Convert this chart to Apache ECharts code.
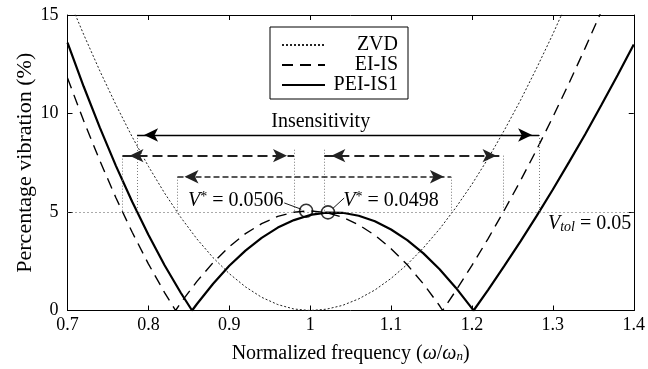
<!DOCTYPE html>
<html><head><meta charset="utf-8">
<script src="https://cdn.jsdelivr.net/npm/echarts@6/dist/echarts.min.js"></script>
<style>html,body{margin:0;padding:0;background:#fff}#c{width:648px;height:369px}</style>
</head><body><div id="c"></div>
<script>
// ---- data ----
const zvdF = [0.70,0.72,0.74,0.76,0.78,0.80,0.82,0.84,0.86,0.88,0.90,0.92,0.94,0.96,0.98,1.00,1.02,1.04,1.06,1.08,1.10,1.12,1.14,1.16,1.18,1.20,1.22,1.24,1.26,1.28,1.30,1.32,1.34];
const zvdV = [15.96,14.01,12.16,10.43,8.81,7.32,5.96,4.73,3.63,2.68,1.87,1.20,0.67,0.30,0.075,0,0.066,0.26,0.59,1.04,1.63,2.34,3.18,4.14,5.22,6.41,7.72,9.15,10.67,12.31,14.03,15.86,17.78];

const eiF = [0.70,0.72,0.74,0.76,0.78,0.80,0.82,0.8336,0.84,0.86,0.88,0.90,0.92,0.94,0.96,0.98,1.00,1.02,1.04,1.06,1.08,1.10,1.12,1.14,1.16,1.1637,1.18,1.20,1.22,1.24,1.26,1.28,1.30,1.32,1.34,1.36,1.38];
const eiV = [11.8,9.63,7.60,5.71,3.97,2.37,0.91,0,0.39,1.48,2.43,3.24,3.90,4.41,4.78,4.99,5.06,4.97,4.74,4.35,3.82,3.14,2.32,1.35,0.24,0,1.00,2.29,3.65,5.09,6.59,8.17,9.82,11.54,13.33,15.19,17.1];

const peiF = [0.70,0.72,0.74,0.76,0.78,0.80,0.82,0.84,0.854,0.86,0.88,0.90,0.92,0.94,0.96,0.98,1.00,1.02,1.04,1.06,1.08,1.10,1.12,1.14,1.16,1.18,1.20,1.202,1.22,1.24,1.26,1.28,1.30,1.32,1.34,1.36,1.38,1.40];
const peiV = [13.6,11.37,9.28,7.33,5.52,3.84,2.30,0.90,0,0.33,1.36,2.27,3.04,3.69,4.21,4.59,4.85,4.97,4.96,4.81,4.53,4.11,3.57,2.90,2.09,1.16,0.11,0,1.05,2.26,3.51,4.80,6.14,7.53,8.95,10.43,11.94,13.5];

const xTicks = [0.7, 0.8, 0.9, 1.0, 1.1, 1.2, 1.3, 1.4];
const yTicks = [0, 5, 10, 15];

const vTol = 5;
const peakPts = [[0.995, 5.06], [1.022, 4.98]];
const insensArrow = [0.786, 1.283, 8.91];      // from, to, level
const eiArrowL = [0.768, 0.98, 7.86];
const eiArrowR = [1.0175, 1.239, 7.86];
const zvdArrow = [0.836, 1.174, 6.79];
const leaderL = [[0.968, 5.46], [0.989, 5.14]];
const leaderR = [[1.028, 5.18], [1.042, 5.71]];
const labelInsens = [1.013, 9.6];
const labelVL = [0.967, 5.58];
const labelVR = [1.041, 5.58];
const labelVtol = [1.294, 4.39];

// ---- chart ----
const FONT = '"Liberation Serif", "Times New Roman", serif';
const chart = echarts.init(document.getElementById('c'), null, {renderer: 'canvas'});
const pairs = (f, v) => f.map((x, i) => [x, v[i]]);

function arrowPair(a, style) {
  return [
    {coord: [a[0], a[2]], symbol: 'arrow', symbolSize: [10, 14], symbolOffset: [0, 7], lineStyle: style},
    {coord: [a[1], a[2]], symbol: 'arrow', symbolSize: [10, 14], symbolOffset: [0, 7]}
  ];
}
function vline(x, top, style) {
  return [{coord: [x, top], symbol: 'none', lineStyle: style}, {coord: [x, vTol], symbol: 'none'}];
}
const dotStyle = {color: '#777', width: 1, type: [1, 2]};
const solidArrow = {color: '#000', width: 1.3, type: 'solid'};
const dashArrow = {color: '#222', width: 1.8, type: [10, 5]};
const dashArrow2 = {color: '#222', width: 1.6, type: [6, 3]};
const leadStyle = {color: '#000', width: 0.9, type: 'solid'};

const axisCommon = {
  type: 'value',
  axisLine: {show: true, onZero: false, lineStyle: {color: '#000', width: 1}},
  axisTick: {show: true, inside: true, length: 5, lineStyle: {color: '#000'}},
  splitLine: {show: false},
  axisLabel: {color: '#000', fontFamily: FONT, fontSize: 18}
};

chart.setOption({
  animation: false,
  backgroundColor: '#fff',
  color: ['#000', '#000', '#000'],
  grid: {left: 67.5, right: 11.3, top: 15, bottom: 58.5},
  legend: {
    data: ['ZVD', 'EI-IS', 'PEI-IS1'],
    orient: 'vertical', left: 270, top: 27,
    padding: [8, 10, 4, 11],
    itemWidth: 43, itemHeight: 12, itemGap: 0,
    selectedMode: false,
    itemStyle: {opacity: 0},
    backgroundColor: '#fff', borderColor: '#000', borderWidth: 1,
    formatter: n => '{a|' + n + '}',
    textStyle: {rich: {a: {width: 68, align: 'right', fontFamily: FONT, fontSize: 20, color: '#000', lineHeight: 19.5}}}
  },
  xAxis: [
    Object.assign({}, axisCommon, {
      position: 'bottom', min: xTicks[0], max: xTicks[xTicks.length - 1], interval: 0.1,
      axisLabel: Object.assign({}, axisCommon.axisLabel, {margin: 6, formatter: v => String(+v.toFixed(1))}),
      name: '{t|Normalized frequency (}{i|ω}{t|/}{i|ω}{s|n}{t|)}',
      nameLocation: 'middle', nameGap: 33,
      nameTextStyle: {rich: {
        t: {fontFamily: FONT, fontSize: 20, color: '#000'},
        i: {fontFamily: FONT, fontSize: 20, fontStyle: 'italic', color: '#000'},
        s: {fontFamily: FONT, fontSize: 13, fontStyle: 'italic', color: '#000', verticalAlign: 'bottom'}
      }}
    }),
    Object.assign({}, axisCommon, {
      position: 'top', min: xTicks[0], max: xTicks[xTicks.length - 1], interval: 0.1,
      axisLabel: {show: false}
    })
  ],
  yAxis: [
    Object.assign({}, axisCommon, {
      position: 'left', min: yTicks[0], max: yTicks[yTicks.length - 1], interval: 5,
      axisLabel: Object.assign({}, axisCommon.axisLabel, {margin: 9})
    }),
    Object.assign({}, axisCommon, {
      position: 'right', min: yTicks[0], max: yTicks[yTicks.length - 1], interval: 5,
      axisLabel: {show: false}
    })
  ],
  series: [
    {name: 'ZVD', type: 'line', data: pairs(zvdF, zvdV), symbol: 'none', showSymbol: false, clip: true, z: 2,
     itemStyle: {color: '#000'}, lineStyle: {color: '#222', width: 1, type: [2, 2]}},
    {name: 'EI-IS', type: 'line', data: pairs(eiF, eiV), symbol: 'none', showSymbol: false, clip: true, z: 3,
     itemStyle: {color: '#000'}, lineStyle: {color: '#000', width: 1.4, type: [11, 7]}},
    {name: 'PEI-IS1', type: 'line', data: pairs(peiF, peiV), symbol: 'none', showSymbol: false, clip: true, z: 4,
     itemStyle: {color: '#000'}, lineStyle: {color: '#000', width: 2.2, type: 'solid'}},
    {name: 'annot', type: 'line', data: [], z: 5, silent: true,
     markLine: {
       silent: true, animation: false, symbol: 'none', label: {show: false},
       emphasis: {disabled: true},
       data: [
         [{coord: [xTicks[0], vTol], symbol: 'none', lineStyle: {color: '#555', width: 1, type: [1, 3]}},
          {coord: [xTicks[xTicks.length - 1], vTol], symbol: 'none'}],
         vline(insensArrow[0], insensArrow[2], dotStyle),
         vline(insensArrow[1], insensArrow[2], dotStyle),
         vline(eiArrowL[0], eiArrowL[2], dotStyle),
         vline(eiArrowL[1], eiArrowL[2] + 0.3, dotStyle),
         vline(eiArrowR[0], eiArrowR[2] + 0.3, dotStyle),
         vline(eiArrowR[1], eiArrowR[2], dotStyle),
         vline(zvdArrow[0], zvdArrow[2], dotStyle),
         vline(zvdArrow[1], zvdArrow[2], dotStyle),
         arrowPair(insensArrow, solidArrow),
         arrowPair(eiArrowL, dashArrow),
         arrowPair(eiArrowR, dashArrow),
         arrowPair(zvdArrow, dashArrow2),
         [{coord: leaderL[0], symbol: 'none', lineStyle: leadStyle}, {coord: leaderL[1], symbol: 'none'}],
         [{coord: leaderR[0], symbol: 'none', lineStyle: leadStyle}, {coord: leaderR[1], symbol: 'none'}]
       ]
     }},
    {name: 'peaks', type: 'scatter', data: peakPts, symbol: 'circle', symbolSize: 13, z: 6, silent: true,
     itemStyle: {color: 'rgba(255,255,255,0)', borderColor: '#000', borderWidth: 1.6}}
  ]
});

function px(p) { return chart.convertToPixel({gridIndex: 0}, p); }
const richV = {
  v: {fontFamily: FONT, fontSize: 20, fontStyle: 'italic', fill: '#000'},
  sup: {fontFamily: FONT, fontSize: 14, fill: '#000', verticalAlign: 'top'},
  sub: {fontFamily: FONT, fontSize: 14, fontStyle: 'italic', fill: '#000', verticalAlign: 'bottom'},
  n: {fontFamily: FONT, fontSize: 20, fill: '#000'}
};
function txt(p, text, align, rich, size) {
  const q = px(p);
  return {type: 'text', x: q[0], y: q[1], z: 100, silent: true,
    style: {text: text, align: align, verticalAlign: 'middle', rich: rich, fill: '#000',
            font: (size || 20) + 'px ' + FONT}};
}
// y-axis title, centred on the y extent of the plot
const yTop = px([xTicks[0], yTicks[yTicks.length - 1]]);
const yBot = px([xTicks[0], yTicks[0]]);
chart.setOption({graphic: [
  txt(labelInsens, 'Insensitivity', 'center', null, 20),
  txt(labelVL, '{v|V}{sup|*}{n| = 0.0506}', 'right', richV),
  txt(labelVR, '{v|V}{sup|*}{n| = 0.0498}', 'left', richV),
  txt(labelVtol, '{v|V}{sub|tol}{n| = 0.05}', 'left', richV),
  {type: 'text', x: yBot[0] - 42, y: (yTop[1] + yBot[1]) / 2, rotation: Math.PI / 2, z: 100, silent: true,
   style: {text: 'Percentage vibration (%)', align: 'center', verticalAlign: 'middle', fill: '#000',
           font: '22px ' + FONT}}
]});
</script>
</body></html>
